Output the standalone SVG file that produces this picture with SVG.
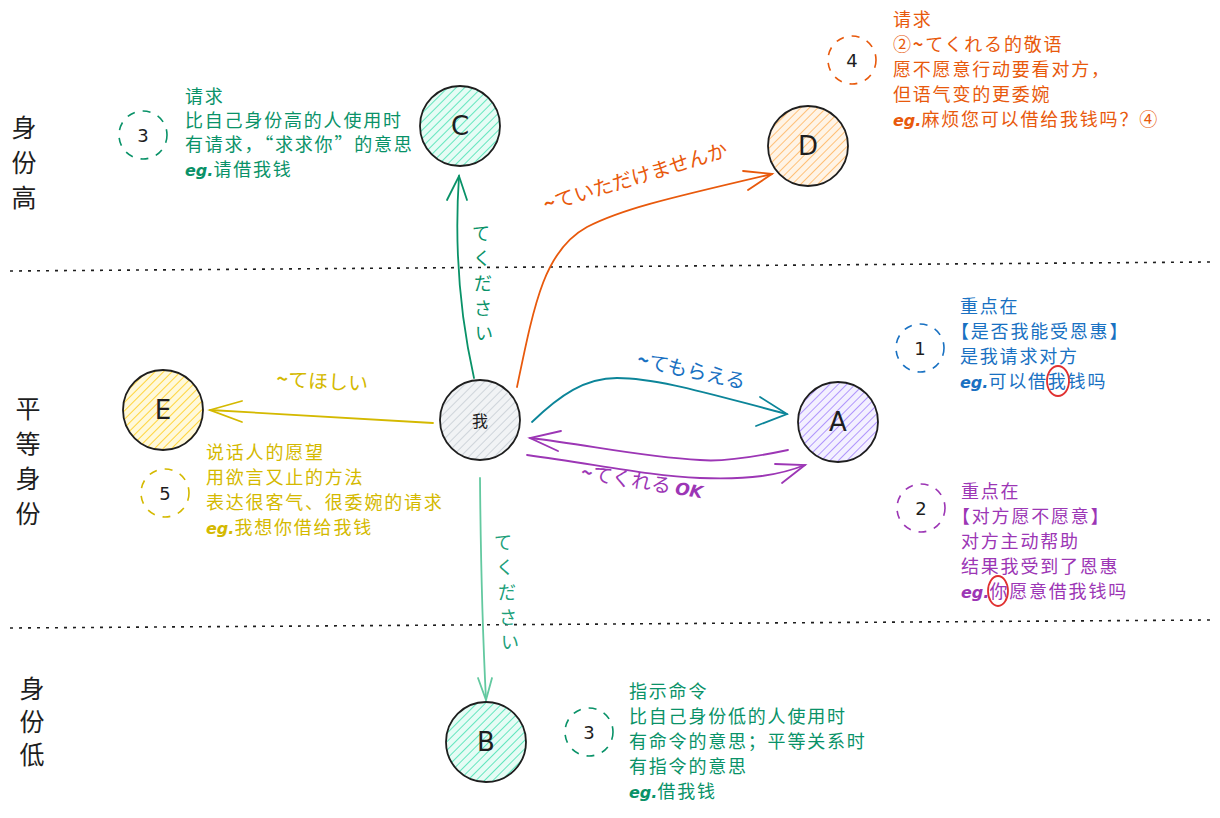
<svg xmlns="http://www.w3.org/2000/svg" width="1220" height="818" viewBox="0 0 1220 818">
<defs>
<pattern id="hG" width="6" height="6" patternUnits="userSpaceOnUse" patternTransform="rotate(45)"><rect width="6" height="6" fill="#e6fcf5"/><line x1="0" y1="0" x2="0" y2="6" stroke="#63e6be" stroke-width="2"/></pattern>
<pattern id="hO" width="6" height="6" patternUnits="userSpaceOnUse" patternTransform="rotate(45)"><rect width="6" height="6" fill="#fff4e6"/><line x1="0" y1="0" x2="0" y2="6" stroke="#ffc078" stroke-width="2"/></pattern>
<pattern id="hGr" width="6" height="6" patternUnits="userSpaceOnUse" patternTransform="rotate(45)"><rect width="6" height="6" fill="#f1f3f5"/><line x1="0" y1="0" x2="0" y2="6" stroke="#ced4da" stroke-width="2"/></pattern>
<pattern id="hY" width="6" height="6" patternUnits="userSpaceOnUse" patternTransform="rotate(45)"><rect width="6" height="6" fill="#fff9db"/><line x1="0" y1="0" x2="0" y2="6" stroke="#ffd43b" stroke-width="2"/></pattern>
<pattern id="hP" width="6" height="6" patternUnits="userSpaceOnUse" patternTransform="rotate(45)"><rect width="6" height="6" fill="#f3f0ff"/><line x1="0" y1="0" x2="0" y2="6" stroke="#b197fc" stroke-width="2"/></pattern>
</defs>
<style>
.node{stroke:#1e1e1e;stroke-width:1.8}
.nl{font-family:"DejaVu Sans",sans-serif;font-size:26px;fill:#1e1e1e;text-anchor:middle;dominant-baseline:central}
.side{font-family:"Noto Sans CJK SC",sans-serif;font-size:25px;fill:#1e1e1e;text-anchor:middle}
.t{font-family:"Noto Sans CJK SC",sans-serif;font-size:18px;letter-spacing:1.8px}
.dc{fill:none;stroke-width:1.6;stroke-dasharray:8 8}
.num{font-family:"DejaVu Sans",sans-serif;font-size:18px;fill:#1e1e1e;text-anchor:middle;dominant-baseline:central}
.con{fill:none;stroke-width:1.8;stroke-linecap:round}
.lbl{font-family:"Noto Sans CJK JP",sans-serif;font-size:20px}
.vl{font-family:"Noto Sans CJK JP",sans-serif;font-size:18px;text-anchor:middle}
.eg{font-family:"DejaVu Sans",sans-serif;font-weight:bold;font-style:italic;letter-spacing:0}
.dot{stroke:#1e1e1e;stroke-width:1.6;stroke-dasharray:3 6}
</style>
<g id="dividers">
<line class="dot" x1="10" y1="271" x2="1210" y2="262"/>
<line class="dot" x1="10" y1="628" x2="1210" y2="620"/>
</g>
<g id="side-labels">
<text class="side" x="24" y="137">身</text><text class="side" x="24" y="172">份</text><text class="side" x="24" y="207">高</text>
<text class="side" x="28" y="418">平</text><text class="side" x="28" y="453">等</text><text class="side" x="28" y="488">身</text><text class="side" x="28" y="523">份</text>
<text class="side" x="32" y="698">身</text><text class="side" x="32" y="731">份</text><text class="side" x="32" y="764">低</text>
</g>
<g id="connectors">
<g stroke="#099268"><path class="con" d="M474 378 Q452 280 459 176"/><path class="con" d="M447 200 L459 176 L467 200"/></g>
<text class="vl" fill="#099268"><tspan x="481" y="240">て</tspan><tspan x="482" y="265">く</tspan><tspan x="483" y="290">だ</tspan><tspan x="483" y="315">さ</tspan><tspan x="484" y="340">い</tspan></text>
<g stroke="#e8590c"><path class="con" d="M517 387 C535 300 545 250 587 227 C620 210 660 200 772 174"/><path class="con" d="M743 171 L772 174 L748 190"/></g>
<text class="lbl" fill="#e8590c" transform="translate(546 212) rotate(-17)"><tspan font-weight="bold">~</tspan>ていただけませんか</text>
<g stroke="#0c8599"><path class="con" d="M532 422 C560 395 585 378 617 378 C660 378 720 397 787 414"/><path class="con" d="M756 426 L787 414 L760 397"/></g>
<text class="lbl" fill="#1971c2" transform="translate(636 366) rotate(12)"><tspan font-weight="bold">~</tspan>てもらえる</text>
<g stroke="#9c36b5"><path class="con" d="M788 450 C750 458 720 462 700 460 C640 457 590 445 530 438"/><path class="con" d="M561 431 L530 438 L558 451"/>
<path class="con" d="M527 455 C600 465 650 476 700 478 C750 480 780 475 805 465"/><path class="con" d="M775 464 L805 465 L782 483"/></g>
<text class="lbl" fill="#9c36b5" transform="translate(580 479) rotate(9)"><tspan font-weight="bold">~</tspan>てくれる <tspan class="eg" font-size="17">OK</tspan></text>
<g stroke="#d4b900"><path class="con" d="M433 423 L210 410"/><path class="con" d="M242 401 L210 410 L242 422"/></g>
<text class="lbl" fill="#d4b900" transform="translate(276 386) rotate(3)"><tspan font-weight="bold">~</tspan>てほしい</text>
<g stroke="#63c9a0"><path class="con" d="M480 478 Q481 600 486 700"/><path class="con" d="M478 678 L486 700 L492 678"/></g>
<text class="vl" fill="#20a07a"><tspan x="503" y="549">て</tspan><tspan x="505" y="574">く</tspan><tspan x="507" y="599">だ</tspan><tspan x="508" y="624">さ</tspan><tspan x="510" y="649">い</tspan></text>
</g>
<g id="node-C"><circle class="node" cx="460" cy="126" r="40" fill="url(#hG)"/><text class="nl" x="460" y="126">C</text></g>
<g id="node-D"><circle class="node" cx="808" cy="146" r="40" fill="url(#hO)"/><text class="nl" x="808" y="146">D</text></g>
<g id="node-me"><circle class="node" cx="480" cy="420" r="40" fill="url(#hGr)"/><text class="nl" x="480" y="420" style="font-family:'Noto Sans CJK SC',sans-serif;font-size:16px">我</text></g>
<g id="node-E"><circle class="node" cx="163" cy="410" r="40" fill="url(#hY)"/><text class="nl" x="163" y="410">E</text></g>
<g id="node-A"><circle class="node" cx="838" cy="422" r="40" fill="url(#hP)"/><text class="nl" x="838" y="422">A</text></g>
<g id="node-B"><circle class="node" cx="486" cy="742" r="40" fill="url(#hG)"/><text class="nl" x="486" y="742">B</text></g>
<g id="note-C">
<circle class="dc" cx="143" cy="135" r="24" stroke="#099268"/><text class="num" x="143" y="135">3</text>
<text class="t" fill="#099268"><tspan x="185" y="103">请求</tspan><tspan x="185" y="127">比自己身份高的人使用时</tspan><tspan x="185" y="151">有请求，“求求你”的意思</tspan><tspan x="185" y="176"><tspan class="eg" font-size="16">eg.</tspan>请借我钱</tspan></text>
</g>
<g id="note-D">
<circle class="dc" cx="852" cy="60" r="24" stroke="#e8590c"/><text class="num" x="852" y="60">4</text>
<text class="t" fill="#e8590c"><tspan x="893" y="26">请求</tspan><tspan x="893" y="51">②<tspan font-weight="bold">~</tspan>てくれる的敬语</tspan><tspan x="893" y="76">愿不愿意行动要看对方，</tspan><tspan x="893" y="101">但语气变的更委婉</tspan><tspan x="893" y="126"><tspan class="eg" font-size="16">eg.</tspan>麻烦您可以借给我钱吗？④</tspan></text>
</g>
<g id="note-A1">
<circle class="dc" cx="920" cy="348" r="24" stroke="#1971c2"/><text class="num" x="920" y="348">1</text>
<text class="t" fill="#1971c2"><tspan x="960" y="313">重点在</tspan><tspan x="951" y="338">【是否我能受恩惠】</tspan><tspan x="960" y="363">是我请求对方</tspan><tspan x="960" y="388"><tspan class="eg" font-size="16">eg.</tspan>可以借我钱吗</tspan></text>
<ellipse cx="1058" cy="381" rx="11" ry="15" fill="none" stroke="#e03131" stroke-width="1.8"/>
</g>
<g id="note-A2">
<circle class="dc" cx="921" cy="508" r="24" stroke="#9c36b5"/><text class="num" x="921" y="508">2</text>
<text class="t" fill="#9c36b5"><tspan x="961" y="498">重点在</tspan><tspan x="952" y="523">【对方愿不愿意】</tspan><tspan x="961" y="548">对方主动帮助</tspan><tspan x="961" y="573">结果我受到了恩惠</tspan><tspan x="961" y="598"><tspan class="eg" font-size="16">eg.</tspan>你愿意借我钱吗</tspan></text>
<ellipse cx="998" cy="591" rx="10" ry="15" fill="none" stroke="#e03131" stroke-width="1.8"/>
</g>
<g id="note-E">
<circle class="dc" cx="165" cy="493" r="24" stroke="#d4b900"/><text class="num" x="165" y="493">5</text>
<text class="t" fill="#d4b900"><tspan x="206" y="459">说话人的愿望</tspan><tspan x="206" y="484">用欲言又止的方法</tspan><tspan x="206" y="509">表达很客气、很委婉的请求</tspan><tspan x="206" y="534"><tspan class="eg" font-size="16">eg.</tspan>我想你借给我钱</tspan></text>
</g>
<g id="note-B">
<circle class="dc" cx="589" cy="732" r="24" stroke="#099268"/><text class="num" x="589" y="732">3</text>
<text class="t" fill="#099268"><tspan x="629" y="698">指示命令</tspan><tspan x="629" y="723">比自己身份低的人使用时</tspan><tspan x="629" y="748">有命令的意思；平等关系时</tspan><tspan x="629" y="773">有指令的意思</tspan><tspan x="629" y="798"><tspan class="eg" font-size="16">eg.</tspan>借我钱</tspan></text>
</g>
</svg>
